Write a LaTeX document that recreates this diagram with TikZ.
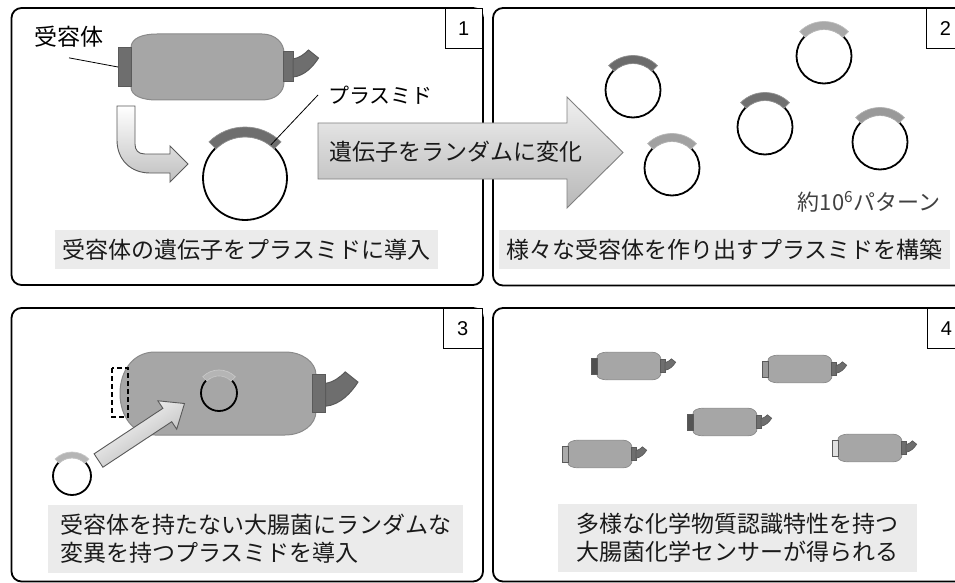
\documentclass[tikz,border=0pt]{standalone}
\usepackage{fontspec}
\setmainfont{Noto Sans CJK JP}
\newfontfamily\numfont{Liberation Sans}

\definecolor{bodyfill}{HTML}{A6A6A6}
\definecolor{bodyline}{HTML}{8A8A8A}
\definecolor{partfill}{HTML}{6E6E6E}
\definecolor{partline}{HTML}{5A5A5A}
\definecolor{captionbg}{HTML}{EBEBEB}
\definecolor{textdark}{HTML}{1A1A1A}
\definecolor{arrowline}{HTML}{808080}

\tikzset{
  panel/.style={draw=black, line width=1.8pt, rounded corners=10pt},
  numbox/.style={draw=black, line width=1.4pt, fill=white, inner sep=0pt,
    minimum height=40pt, anchor=north east,
    font=\numfont\fontsize{20}{24}\selectfont},
  capbox/.style={fill=captionbg, inner sep=0pt, text=textdark,
    font=\fontsize{23}{28}\selectfont},
  labeltext/.style={inner sep=0pt, text=black, font=\fontsize{23}{28}\selectfont},
  cellbody/.style={fill=bodyfill, draw=bodyline},
  cellpart/.style={fill=partfill, draw=partline},
  ring/.style={circle, draw=black, line width=1.8pt, inner sep=0pt, outer sep=0pt},
  leader/.style={draw=black, line width=0.8pt},
}

% right cap and flagellum of a bacterium
\newcommand\cellparts[3]{%
  \begin{scope}[shift={(#1,#2)}, scale=#3]
    \draw[cellpart] (75.5,-15) rectangle (85.5,15);
    \draw[cellpart] (85.5,-8) .. controls (92,-9) and (97,-13) .. (101,-17)
      -- (111,-9) .. controls (106,-1) and (97,9) .. (85.5,10) -- cycle;
  \end{scope}}

% a bacterium: body, right cap and flagellum; #4 names the left attachment point
\newcommand\bacterium[5]{%
  \begin{scope}[shift={(#1,#2)}, scale=#3, line width=#5]
    \draw[cellbody] (-76.5,-19) .. controls (-76.5,-29) and (-65,-33) .. (-50.5,-33)
      -- (54.5,-33) .. controls (68,-33) and (76.5,-24) .. (76.5,-14)
      -- (76.5,15) .. controls (76.5,25) and (68,33) .. (54.5,33)
      -- (-50.5,33) .. controls (-65,33) and (-76.5,29) .. (-76.5,20) -- cycle;
    \coordinate (#4) at (-89.5,0);
  \end{scope}
  \begin{scope}[line width=#5]\cellparts{#1}{#2}{#3}\end{scope}}

% receptor on the left end of a bacterium
\newcommand\receptor[5]{%
  \begin{scope}[shift={(#1,#2)}, scale=#3, line width=#5]
    \draw[cellpart, fill=#4] (-89.5,-19) rectangle (-76.5,20);
  \end{scope}}

% plasmid ring with its gene segment on top
\newcommand\plasmid[6]{%
  \node[ring, minimum size=#4*2pt] (#1) at (#2,#3) {};
  \colorlet{genecol}{#5}%
  \begin{scope}[shift={(#2,#3)}]
    \draw[fill=genecol, draw=genecol!75!white, line width=0.7pt]
      (225:#4-1) arc[start angle=225, end angle=315, radius=#4-1]
      -- (315:#4+#6) arc[start angle=315, end angle=225, radius=#4+#6] -- cycle;
  \end{scope}}

\begin{document}
\begin{tikzpicture}[x=1pt, y=-1pt]
\useasboundingbox (0,0) rectangle (955,583);
\clip (0,0) rectangle (955,583);

% ---------- panel frames ----------
\draw[panel] (11.5,8) rectangle (483,285);
\draw[panel] (493,8) rectangle (966,285.5);
\draw[panel] (11.5,308) rectangle (483,581.5);
\draw[panel] (493,308) rectangle (966,581.5);

% ---------- panel 1 ----------
\bacterium{207.5}{67}{1}{recL}{1pt}
\receptor{207.5}{67}{1}{partfill}{1pt}
\node[labeltext, anchor=center] (lblrec) at (69,37) {受容体};
\draw[leader] ([yshift=-10pt]lblrec.south) -- (recL);

% bent arrow into the plasmid
\draw[line width=0.9pt, draw=black!65, top color=white, bottom color=black!25]
  (117,106) -- (135,106) -- (135,144) .. controls (135,150) and (138,154) .. (145,154)
  -- (170,154) -- (170,146) -- (188,164) -- (170,182) -- (170,173) -- (150,173)
  .. controls (131,173) and (117,160) .. (117,140) -- cycle;

\plasmid{pl1}{245}{178}{42}{black!57}{9}
\node[inner sep=0pt, anchor=west, font=\fontsize{21}{25}\selectfont] (lblpl) at (328,95)
  {プラスミド};
\draw[leader] (pl1.52) -- ([xshift=-10pt]lblpl.west);

\node[capbox, minimum width=383pt, minimum height=39pt] (cap1) at (246.5,249.5)
  {受容体の遺伝子をプラスミドに導入};

% ---------- panel 2 ----------
\plasmid{p2a}{633}{90}{27.5}{black!58}{7}
\plasmid{p2b}{824}{56}{27.5}{black!34}{7}
\plasmid{p2c}{765}{127}{27.5}{black!56}{7}
\plasmid{p2d}{672}{168}{27.5}{black!37}{7}
\plasmid{p2e}{880}{142}{27.5}{black!40}{7}
\node[inner sep=0pt, text=black!75, font=\fontsize{22}{26}\selectfont] (lblpat) at (869,202)
  {約10\textsuperscript{6}パターン};
\node[capbox, minimum width=451pt, minimum height=39pt] (cap2) at (724.5,249.5)
  {様々な受容体を作り出すプラスミドを構築};

% ---------- panel 3 ----------
% cell without receptor: rounded left end
\draw[cellbody, line width=1pt] (155,352) -- (285,352)
  .. controls (302,352) and (316,362) .. (316,375) -- (316,411)
  .. controls (316,425) and (302,435) .. (285,435) -- (155,435)
  .. controls (133,435) and (120,416) .. (120,393.5)
  .. controls (120,371) and (133,352) .. (155,352) -- cycle;
\begin{scope}[line width=1pt]\cellparts{217}{393.5}{1.27}\end{scope}
\draw[black, line width=1.4pt, dash pattern=on 5pt off 3pt] (112,368) rectangle (128,417);
\plasmid{pl3in}{219}{393}{18}{black!29}{5}
\plasmid{pl3out}{72}{476}{19}{black!29}{5}
\draw[line width=0.9pt, draw=black!65, top color=white, bottom color=black!30, shading angle=33.5]
  (94.1,453.8) -- (162.9,408.3) -- (157.9,400.8) -- (184.5,403.5) -- (176.7,429.2)
  -- (171.7,421.7) -- (102.9,467.2) -- cycle;
\node[capbox, minimum width=415pt, minimum height=68pt, text width=391pt, align=left]
  (cap3) at (255.5,539)
  {受容体を持たない大腸菌にランダムな\\変異を持つプラスミドを導入};

% ---------- panel 4 ----------
\bacterium{629}{366}{0.42}{cA}{0.7pt}
\receptor{629}{366}{0.42}{black!69}{0.7pt}
\bacterium{800}{369}{0.42}{cB}{0.7pt}
\receptor{800}{369}{0.42}{black!40}{0.7pt}
\bacterium{725}{422}{0.42}{cC}{0.7pt}
\receptor{725}{422}{0.42}{black!67}{0.7pt}
\bacterium{600}{454}{0.42}{cD}{0.7pt}
\receptor{600}{454}{0.42}{black!33}{0.7pt}
\bacterium{870}{448}{0.42}{cE}{0.7pt}
\receptor{870}{448}{0.42}{black!12}{0.7pt}
\node[capbox, minimum width=359pt, minimum height=68pt, align=center] (cap4) at (737.5,538)
  {多様な化学物質認識特性を持つ\\大腸菌化学センサーが得られる};

% ---------- big arrow between panels 1 and 2 ----------
\draw[line width=0.9pt, draw=arrowline, top color=black!6, bottom color=black!28]
  (318,123) -- (567,123) -- (567,97) -- (623,152.5) -- (567,208) -- (567,179)
  -- (318,179) -- cycle;
\node[labeltext, text=textdark] (lblmut) at (456,152) {遺伝子をランダムに変化};

% ---------- step numbers ----------
\node[numbox, minimum width=37pt] (n1) at (483,8) {1};
\node[numbox, minimum width=38pt] (n2) at (965,8) {2};
\node[numbox, minimum width=39pt] (n3) at (483,308) {3};
\node[numbox, minimum width=38pt] (n4) at (966,308) {4};
\end{tikzpicture}
\end{document}
